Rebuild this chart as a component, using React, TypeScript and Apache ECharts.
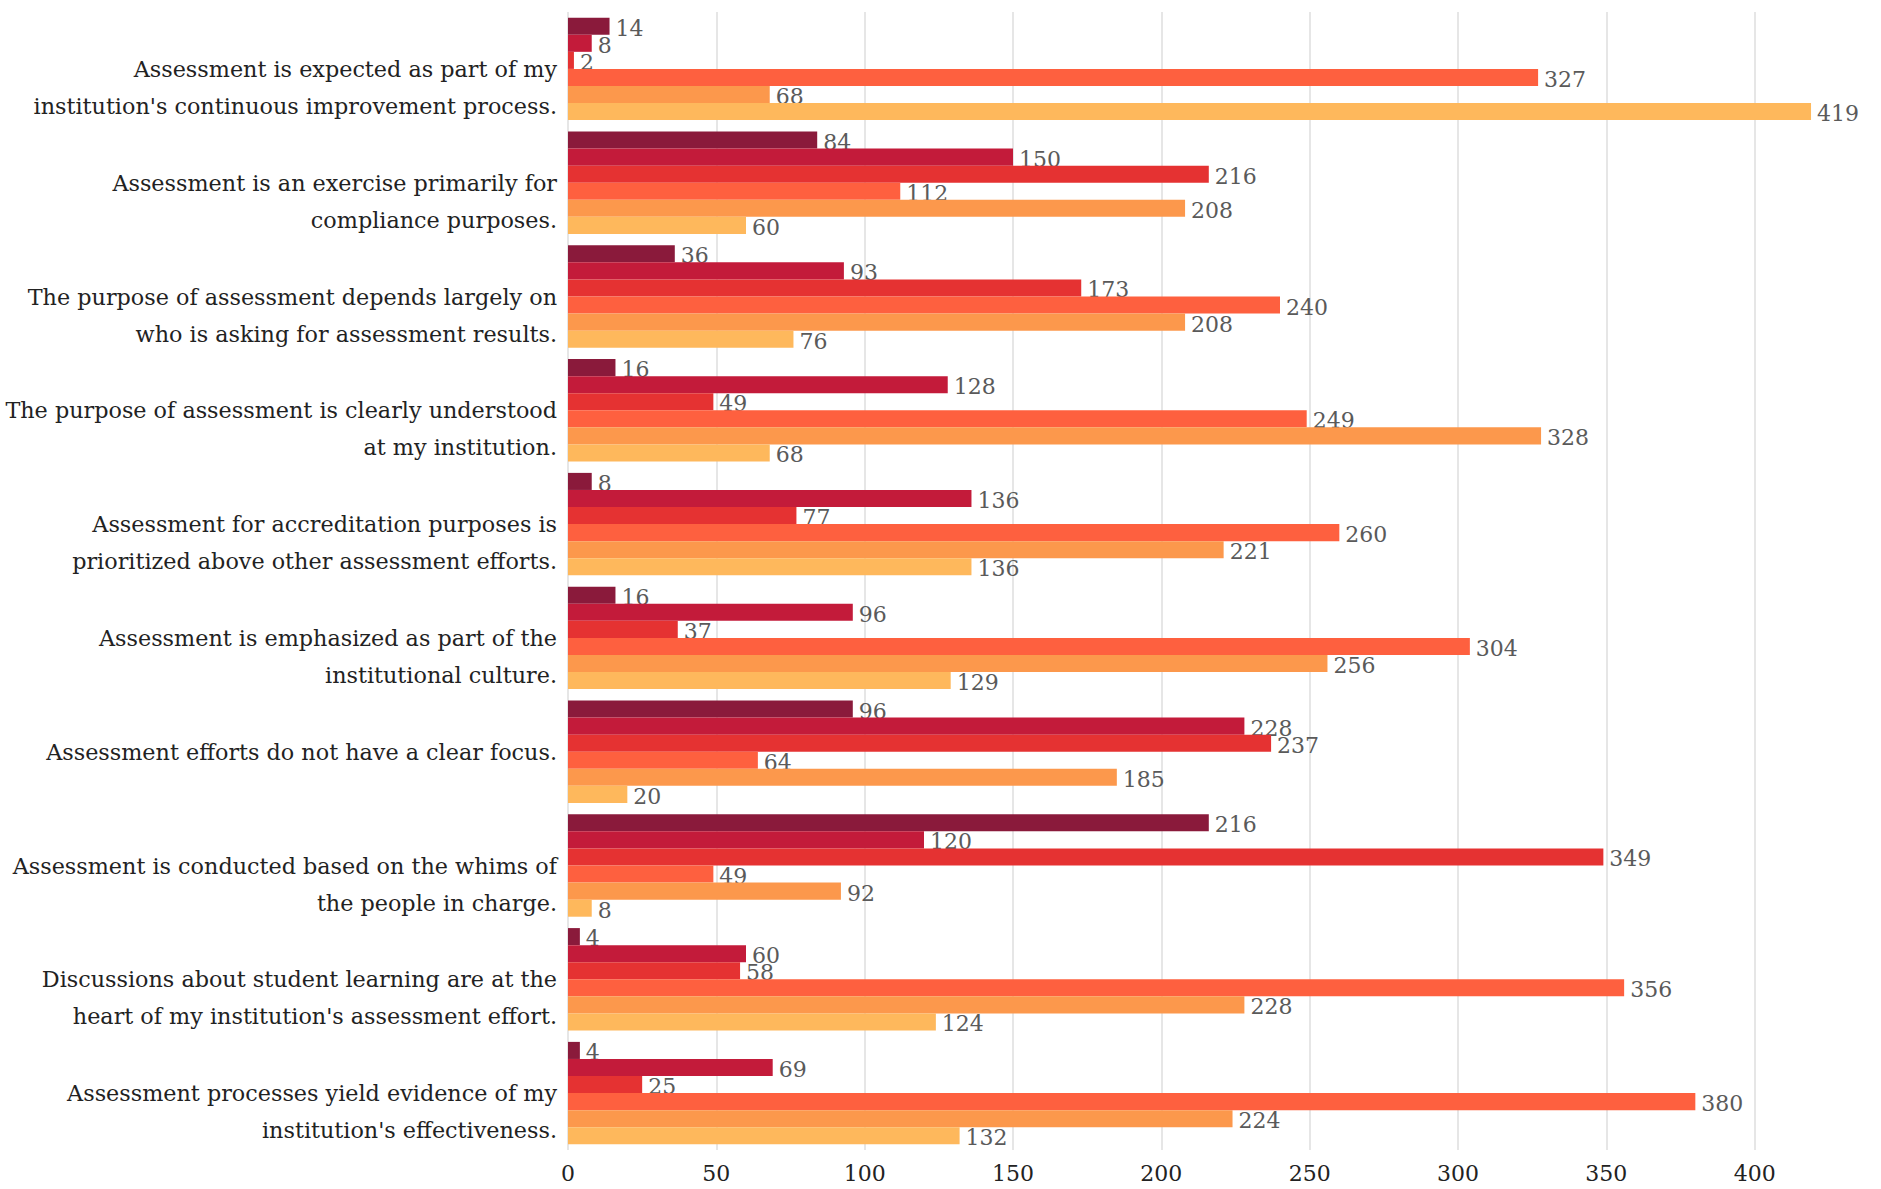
import React, { useEffect, useRef } from "react";
import * as echarts from "echarts";

const categories: string[] = [
  "Assessment is expected as part of my\ninstitution's continuous improvement process.",
  "Assessment is an exercise primarily for\ncompliance purposes.",
  "The purpose of assessment depends largely on\nwho is asking for assessment results.",
  "The purpose of assessment is clearly understood\nat my institution.",
  "Assessment for accreditation purposes is\nprioritized above other assessment efforts.",
  "Assessment is emphasized as part of the\ninstitutional culture.",
  "Assessment efforts do not have a clear focus.",
  "Assessment is conducted based on the whims of\nthe people in charge.",
  "Discussions about student learning are at the\nheart of my institution's assessment effort.",
  "Assessment processes yield evidence of my\ninstitution's effectiveness.",
];

const seriesNames: string[] = ["Response 1", "Response 2", "Response 3", "Response 4", "Response 5", "Response 6"];

const series1: number[] = [14, 84, 36, 16, 8, 16, 96, 216, 4, 4];
const series2: number[] = [8, 150, 93, 128, 136, 96, 228, 120, 60, 69];
const series3: number[] = [2, 216, 173, 49, 77, 37, 237, 349, 58, 25];
const series4: number[] = [327, 112, 240, 249, 260, 304, 64, 49, 356, 380];
const series5: number[] = [68, 208, 208, 328, 221, 256, 185, 92, 228, 224];
const series6: number[] = [419, 60, 76, 68, 136, 129, 20, 8, 124, 132];

const xTicks: number[] = [0, 50, 100, 150, 200, 250, 300, 350, 400];

const colors: string[] = ["#8a1a3b", "#c31b3a", "#e53232", "#fe603f", "#fc984c", "#feb85c"];

const FONT = "'DejaVu Serif', serif";

export default function App() {
  const ref = useRef<HTMLDivElement>(null);
  useEffect(() => {
    document.body.style.margin = "0";
    if (!ref.current) return;
    const chart = echarts.init(ref.current, undefined, { renderer: "svg" });
    const all = [series1, series2, series3, series4, series5, series6];
    chart.setOption({
      animation: false,
      backgroundColor: "#ffffff",
      grid: { left: 568, right: 67, top: 12, bottom: 39, containLabel: false, outerBoundsMode: "none" },
      xAxis: {
        type: "value",
        min: 0,
        max: 420,
        interval: 50,
        axisLine: { show: false },
        axisTick: { show: false },
        splitLine: { show: true, showMaxLine: false, lineStyle: { color: "#e6e6e6", width: 2 } },
        axisLabel: {
          showMaxLabel: false,
          color: "#222222",
          fontFamily: FONT,
          fontSize: 22,
          margin: 12,
          formatter: (v: number) => (xTicks.includes(v) ? String(v) : ""),
        },
      },
      yAxis: {
        type: "category",
        data: categories,
        inverse: true,
        axisLine: { show: false },
        axisTick: { show: false },
        splitLine: { show: false },
        axisLabel: {
          color: "#222222",
          fontFamily: FONT,
          fontSize: 22.3,
          lineHeight: 37,
          margin: 11,
          align: "right",
          formatter: (v: string) => (v.includes("\n") ? " \n" + v : v),
        },
      },
      series: all.map((d, i) => ({
        name: seriesNames[i],
        type: "bar",
        data: d,
        z: 2 + i,
        barGap: "0%",
        barCategoryGap: "10%",
        itemStyle: { color: colors[i] },
        label: {
          show: true,
          position: "right",
          distance: 6,
          offset: [0, 2],
          color: "#5a5a5a",
          fontFamily: FONT,
          fontSize: 22,
        },
      })),
    });
    return () => chart.dispose();
  }, []);
  return <div ref={ref} style={{ width: 1881, height: 1189 }} />;
}
